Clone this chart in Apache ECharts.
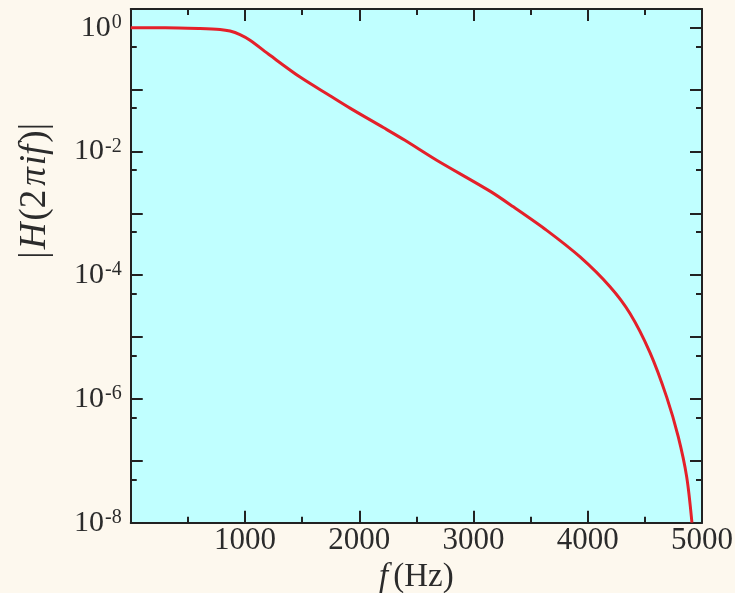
<!DOCTYPE html>
<html>
<head>
<meta charset="utf-8">
<script src="https://cdn.jsdelivr.net/npm/echarts@6/dist/echarts.min.js"></script>
<style>
  html, body { margin: 0; padding: 0; background: #fdf8ee; }
  #chart { width: 735px; height: 593px; }
</style>
</head>
<body>
<div id="chart"></div>
<script>
// Frequency response magnitude |H(2πif)| of the filter
const freqHz = [0, 300, 606, 781, 869, 956, 1044, 1219, 1482, 1744, 1919, 2211,
  2400, 2678, 3144, 3349, 3641, 3933, 4195, 4370, 4545, 4691, 4792, 4866, 4912];
const magnitude = [1.0, 1.0, 0.97, 0.935, 0.88, 0.77, 0.624, 0.357, 0.159, 0.0794,
  0.0501, 0.0243, 0.0151, 7.2e-3, 2.28e-3, 1.27e-3, 5.3e-4, 1.97e-4, 6.5e-5, 2.4e-5,
  5.6e-6, 1.07e-6, 2.45e-7, 5.5e-8, 1.0e-8];

// Axis ticks (y in decades)
const xTickLabels = [1000, 2000, 3000, 4000, 5000];
const yLabelDecades = [-8, -6, -4, -2, 0];
const yMajorDecades = [-8, -7, -6, -5, -4, -3, -2, -1, 0];
const yMinorDecades = yMajorDecades.slice(0, -1).map(d => d + Math.log10(5));

const Y_MIN = -8, Y_MAX = Math.log10(2);
const serif = '"Liberation Serif", "DejaVu Serif", serif';
const ink = '#2b2b2b';

const seriesData = freqHz.map((f, i) => [f, Math.log10(magnitude[i])]);

const lineStyle = { color: '#222', width: 2 };

function yAxisBase(position, ticks, len, withLine, withLabels) {
  return {
    type: 'value', position, min: Y_MIN, max: Y_MAX,
    axisLine: { show: withLine, onZero: false, lineStyle },
    splitLine: { show: false },
    axisTick: { show: true, inside: true, length: len, customValues: ticks,
      lineStyle: { color: '#222', width: 2 } },
    axisLabel: withLabels ? {
      show: true, customValues: yLabelDecades, margin: 9,
      formatter: v => '{b|10}{s|' + Math.round(v) + '}',
      rich: {
        b: { fontFamily: serif, fontSize: 30, color: ink, lineHeight: 30 },
        s: { fontFamily: serif, fontSize: 20, color: ink, lineHeight: 20, verticalAlign: 'top', padding: [0, 0, 0, 1] }
      }
    } : { show: false }
  };
}

function xAxisBase(position, withLabels) {
  return {
    type: 'value', position, min: 0, max: 5000, interval: 1000,
    axisLine: { show: true, onZero: false, lineStyle },
    splitLine: { show: false },
    axisTick: { show: true, inside: true, length: 12, lineStyle: { color: '#222', width: 2 } },
    minorTick: { show: true, splitNumber: 2, length: 6, lineStyle: { color: '#222', width: 2 } },
    axisLabel: withLabels ? {
      customValues: xTickLabels, margin: 3, formatter: v => String(v),
      fontFamily: serif, fontSize: 31, color: ink, lineHeight: 30
    } : { show: false }
  };
}

const chart = echarts.init(document.getElementById('chart'));
chart.setOption({
  backgroundColor: '#fdf8ee',
  animation: false,
  grid: {
    left: 130.75, right: 33, top: 9, bottom: 70.3,
    show: true, backgroundColor: '#c0ffff', borderWidth: 0,
    outerBoundsMode: 'none'
  },
  xAxis: [
    Object.assign(xAxisBase('bottom', true), {
      name: '{i|f}{n|(Hz)}', nameLocation: 'middle', nameGap: 35,
      nameTextStyle: {
        rich: {
          i: { fontFamily: serif, fontStyle: 'italic', fontSize: 33, color: ink, padding: [0, 5, 0, 0] },
          n: { fontFamily: serif, fontSize: 33, color: ink }
        }
      }
    }),
    xAxisBase('top', false)
  ],
  yAxis: [
    Object.assign(yAxisBase('left', yMajorDecades, 12, true, true), {
      name: '{n||}{i|H}{n|(2}{p|π}{i|if}{n|)|}', nameLocation: 'middle', nameGap: 77, nameRotate: 90,
      nameTextStyle: {
        padding: [0, 0, 0, 150],
        rich: {
          i: { fontFamily: serif, fontStyle: 'italic', fontSize: 37, color: ink },
          p: { fontFamily: serif, fontStyle: 'italic', fontSize: 37, color: ink, padding: [0, 2, 0, 2] },
          n: { fontFamily: serif, fontSize: 37, color: ink, padding: [0, 2, 0, 2] }
        }
      }
    }),
    yAxisBase('left', yMinorDecades, 6, false, false),
    yAxisBase('right', yMajorDecades, 12, true, false),
    yAxisBase('right', yMinorDecades, 6, false, false)
  ],
  series: [{
    type: 'line', xAxisIndex: 0, yAxisIndex: 0,
    data: seriesData, showSymbol: false, smooth: 0.3,
    clip: true,
    lineStyle: { color: '#e4202a', width: 3 }
  }]
});
</script>
</body>
</html>
